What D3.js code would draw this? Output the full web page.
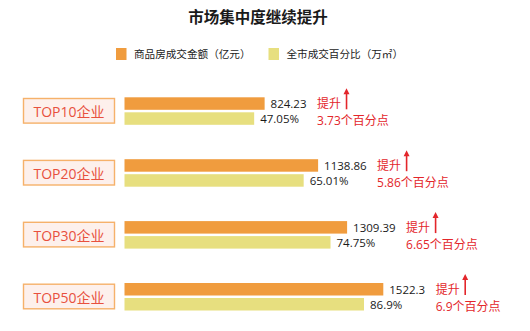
<!DOCTYPE html>
<html>
<head>
<meta charset="utf-8">
<script src="https://cdn.jsdelivr.net/npm/d3@7/dist/d3.min.js"></script>
<style>
  html, body { margin: 0; padding: 0; background: #fff; }
  svg { display: block; font-family: "Open Sans", "Noto Sans CJK SC", sans-serif; }
</style>
</head>
<body>
<svg id="chart" width="530" height="331"></svg>
<script>
// Top-N developers: sales amount and share of city-wide transactions
const categories = ["TOP10企业", "TOP20企业", "TOP30企业", "TOP50企业"];
const amountValues = [824.23, 1138.86, 1309.39, 1522.3];   // 亿元
const shareValues = [47.05, 65.01, 74.75, 86.9];           // %
const shareLabels = ["47.05%", "65.01%", "74.75%", "86.9%"];
const riseLabels = ["3.73个百分点", "5.86个百分点", "6.65个百分点", "6.9个百分点"];
const seriesNames = ["商品房成交金额（亿元）", "全市成交百分比（万㎡）"];

const title = "市场集中度继续提升";
const colors = { amount: "#f09c3e", share: "#e7df7f", rise: "#e3262b",
                 boxFill: "#fdf0ec", boxStroke: "#f6b16a", boxText: "#e8503e" };

const svg = d3.select("#chart");

// Title
svg.append("text")
  .attr("x", 258).attr("y", 17)
  .attr("text-anchor", "middle").attr("dominant-baseline", "central")
  .attr("font-size", 15.5).attr("font-weight", "bold").attr("fill", "#1a1a1a")
  .text(title);

// Legend
const legend = [
  { x: 116, color: colors.amount, label: seriesNames[0] },
  { x: 268.5, color: colors.share, label: seriesNames[1] }
];
const lg = svg.selectAll("g.legend").data(legend).join("g").attr("class", "legend")
  .attr("transform", d => `translate(${d.x},54)`);
lg.append("rect").attr("x", 0).attr("y", -6).attr("width", 10.5).attr("height", 12)
  .attr("fill", d => d.color);
lg.append("text").attr("x", 18).attr("y", 0).attr("dominant-baseline", "central")
  .attr("font-size", 10.6).attr("fill", "#222").text(d => d.label);

// Scales
const y = d3.scaleBand().domain(categories).range([79.85, 327.45]).padding(0);
const x0 = 124.5;
const xAmount = d3.scaleLinear().domain([0, 1522.3]).range([x0, 383.3]);
const xShare = d3.scaleLinear().domain([0, 86.9]).range([x0, 364]);

const barH = 12.5;
const rows = categories.map((c, i) => ({
  cat: c, amount: amountValues[i], share: shareValues[i],
  shareLabel: shareLabels[i], rise: riseLabels[i],
  cy: y(c) + y.bandwidth() / 2
}));

const g = svg.selectAll("g.row").data(rows).join("g").attr("class", "row");

// Category label boxes
g.append("rect")
  .attr("x", 23.5).attr("y", d => d.cy - 12.3)
  .attr("width", 91).attr("height", 24.6)
  .attr("fill", colors.boxFill).attr("stroke", colors.boxStroke).attr("stroke-width", 1.4);
g.append("text")
  .attr("x", 69).attr("y", d => d.cy + 0.5)
  .attr("text-anchor", "middle").attr("dominant-baseline", "central")
  .attr("font-size", 14).attr("fill", colors.boxText)
  .text(d => d.cat);

// Bars
g.append("rect")
  .attr("x", x0).attr("y", d => d.cy - 13.5)
  .attr("width", d => xAmount(d.amount) - x0).attr("height", barH)
  .attr("fill", colors.amount);
g.append("rect")
  .attr("x", x0).attr("y", d => d.cy + 1.5)
  .attr("width", d => xShare(d.share) - x0).attr("height", barH)
  .attr("fill", colors.share);

// Value labels
const amountText = g.append("text")
  .attr("x", d => xAmount(d.amount) + 6).attr("y", d => d.cy - 7)
  .attr("dominant-baseline", "central")
  .attr("font-size", 11.5).attr("fill", "#1a1a1a")
  .text(d => d.amount);
g.append("text")
  .attr("x", d => xShare(d.share) + 6).attr("y", d => d.cy + 8)
  .attr("dominant-baseline", "central")
  .attr("font-size", 11.5).attr("fill", "#1a1a1a")
  .text(d => d.shareLabel);

// Increase annotations, placed after the amount label
amountText.each(function (d) {
  d.annoX = xAmount(d.amount) + 6 + this.getComputedTextLength() + 10.5;
});
g.append("text")
  .attr("x", d => d.annoX).attr("y", d => d.cy - 7)
  .attr("dominant-baseline", "central")
  .attr("font-size", 12).attr("fill", colors.rise)
  .text("提升");
g.append("text")
  .attr("x", d => d.annoX).attr("y", d => d.cy + 9.5)
  .attr("dominant-baseline", "central")
  .attr("font-size", 12).attr("fill", colors.rise)
  .text(d => d.rise);

// Upward arrows
g.append("line")
  .attr("x1", d => d.annoX + 29.5).attr("x2", d => d.annoX + 29.5)
  .attr("y1", d => d.cy - 19).attr("y2", d => d.cy - 1.5)
  .attr("stroke", colors.rise).attr("stroke-width", 1.6);
g.append("path")
  .attr("d", d => {
    const ax = d.annoX + 29.5, ay = d.cy - 22.5;
    return `M${ax},${ay} L${ax - 3},${ay + 6} L${ax + 3},${ay + 6} Z`;
  })
  .attr("fill", colors.rise);
</script>
</body>
</html>
